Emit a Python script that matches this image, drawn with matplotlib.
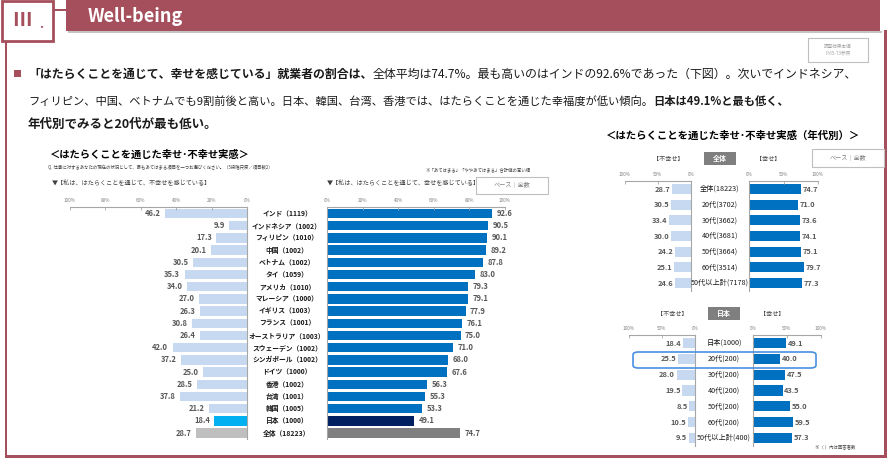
import matplotlib
matplotlib.use('Agg')
import matplotlib.pyplot as plt
from matplotlib.patches import Rectangle, FancyBboxPatch
from matplotlib.transforms import blended_transform_factory

plt.rcParams['font.family'] = ['Noto Sans CJK JP', 'DejaVu Sans']

W, H = 891, 462
MAROON = '#a64f5c'
GRAY_TXT = '#595959'

# ---- data ----
countries = ['インド（1119）', 'インドネシア（1002）', 'フィリピン（1010）', '中国（1002）',
             'ベトナム（1002）', 'タイ（1059）', 'アメリカ（1010）', 'マレーシア（1000）',
             'イギリス（1003）', 'フランス（1001）', 'オーストラリア（1003）', 'スウェーデン（1002）',
             'シンガポール（1002）', 'ドイツ（1000）', '香港（1002）', '台湾（1001）',
             '韓国（1005）', '日本（1000）', '全体（18223）']
unhappy = [46.2, 9.9, 17.3, 20.1, 30.5, 35.3, 34.0, 27.0, 26.3, 30.8, 26.4, 42.0,
           37.2, 25.0, 28.5, 37.8, 21.2, 18.4, 28.7]
happy = [92.6, 90.5, 90.1, 89.2, 87.8, 83.0, 79.3, 79.1, 77.9, 76.1, 75.0, 71.0,
         68.0, 67.6, 56.3, 55.3, 53.3, 49.1, 74.7]

age_all_labels = ['全体(18223)', '20代(3702)', '30代(3662)', '40代(3681)', '50代(3664)',
                  '60代(3514)', '50代以上計(7178)']
age_all_unhappy = [28.7, 30.5, 33.4, 30.0, 24.2, 25.1, 24.6]
age_all_happy = [74.7, 71.0, 73.6, 74.1, 75.1, 79.7, 77.3]

age_jp_labels = ['日本(1000)', '20代(200)', '30代(200)', '40代(200)', '50代(200)',
                 '60代(200)', '50代以上計(400)']
age_jp_unhappy = [18.4, 25.5, 28.0, 19.5, 8.5, 10.5, 9.5]
age_jp_happy = [49.1, 40.0, 47.5, 43.5, 55.0, 59.5, 57.3]

fig = plt.figure(figsize=(W / 100, H / 100), dpi=100)
fig.patch.set_facecolor('white')


def fx(x):
    return x / W


def fy(y):
    return 1 - y / H


def T(x, y, s, **kw):
    kw.setdefault('va', 'center')
    return fig.text(fx(x), fy(y), s, **kw)


def rect(x0, y0, x1, y1, **kw):
    fig.patches.append(Rectangle((fx(x0), fy(y1)), fx(x1 - x0), (y1 - y0) / H,
                                 transform=fig.transFigure, **kw))


def px_axes(x0, y0, x1, y1):
    return fig.add_axes([fx(x0), fy(y1), fx(x1 - x0), (y1 - y0) / H])


# ---- frame and header ----
rect(5, 42, 7, 458, facecolor=MAROON, edgecolor='none')
rect(5, 455, 887, 458, facecolor=MAROON, edgecolor='none')
rect(884, 30, 887, 458, facecolor=MAROON, edgecolor='none')
rect(53, 9, 68, 11, facecolor=MAROON, edgecolor='none')
rect(68, 31, 882, 33, facecolor='#8a8a8a', edgecolor='none', alpha=0.5)
rect(66, 0, 880, 31, facecolor=MAROON, edgecolor='none')
rect(2, 1, 53, 41, facecolor='white', edgecolor=MAROON, linewidth=2)
T(22, 20, 'Ⅲ', color=MAROON, fontsize=14, ha='center', fontweight='bold')
T(41, 24, '.', color=MAROON, fontsize=9, ha='center', fontweight='bold')
T(88, 16, 'Well-being', color='white', fontsize=13, fontweight='bold', ha='left')

rect(808, 38, 868, 62, facecolor='white', edgecolor='#bfbfbf', linewidth=0.8)
T(838, 50, '調査結果本編\nP.65-73参照', color='#a6a6a6', fontsize=3.3, ha='center',
  linespacing=1.3)

# ---- mixed bold / normal text lines ----
renderer = fig.canvas.get_renderer()


def line(x, y, parts, size=8.6):
    for s, bold in parts:
        t = T(x, y, s, fontsize=size, fontweight='bold' if bold else 'normal',
              color='#1a1a1a', ha='left')
        bb = t.get_window_extent(renderer)
        x += bb.width


rect(14, 70, 21, 77, facecolor=MAROON, edgecolor='none')
line(28, 74, [('「はたらくことを通じて、幸せを感じている」就業者の割合は、', True),
              ('全体平均は74.7%。最も高いのはインドの92.6%であった（下図）。次いでインドネシア、', False)])
line(28, 101, [('フィリピン、中国、ベトナムでも9割前後と高い。日本、韓国、台湾、香港では、はたらくことを通じた幸福度が低い傾向。', False),
               ('日本は49.1%と最も低く、', True)], size=8.1)
line(28, 124, [('年代別でみると20代が最も低い。', True)], size=9)

# ---- left chart texts ----
T(50, 155, '＜はたらくことを通じた幸せ･不幸せ実感＞', fontsize=7.4, fontweight='bold', ha='left')
T(48, 167, 'Q. 仕事に対するあなたの現在の状況として、最もあてはまる項目を一つお選びください。（5段階尺度／項目数2）',
  fontsize=3.2, ha='left', color='#404040')
T(52, 183, '▼【私は、はたらくことを通じて、不幸せを感じている】', fontsize=4.4, ha='left', color='#404040')
T(425, 170, '※「あてはまる」「ややあてはまる」合計値の高い順', fontsize=3.2, ha='left', color='#404040')
T(327, 183, '▼【私は、はたらくことを通じて、幸せを感じている】', fontsize=4.4, ha='left', color='#404040')
rect(476, 177, 548, 194, facecolor='white', edgecolor='#bfbfbf', linewidth=0.8)
T(512, 185.5, 'ベース｜全数', fontsize=4.4, ha='center', color='#7f7f7f')


def style_axis(ax, left_side):
    for s in ['left', 'right', 'bottom', 'top']:
        ax.spines[s].set_visible(False)
    ax.spines['top'].set_visible(True)
    ax.spines['top'].set_color('#a6a6a6')
    ax.spines['top'].set_linewidth(0.8)
    side = 'right' if left_side else 'left'
    ax.spines[side].set_visible(True)
    ax.spines[side].set_color('#a6a6a6')
    ax.spines[side].set_linewidth(0.8)
    ax.set_yticks([])
    ax.xaxis.tick_top()
    ax.tick_params(axis='x', direction='in', length=2, width=0.6, color='#a6a6a6',
                   labelsize=3.3, labelcolor='#7f7f7f', pad=3)
    ax.patch.set_alpha(0)


def pair_chart(xl0, xl1, xr0, xr1, y_first, step, labels, uvals, hvals, ucols, hcols,
               xt, ticks, bar_h, val_size, lab_size, lab_bold):
    n = len(labels)
    y0 = y_first - step / 2
    y1 = y_first + step * (n - 0.5)
    axl = px_axes(xl0, y0, xl1, y1)
    axr = px_axes(xr0, y0, xr1, y1)
    idx = list(range(n))
    axl.barh(idx, uvals, height=bar_h, color=ucols)
    axr.barh(idx, hvals, height=bar_h, color=hcols)
    for ax, left_side in [(axl, True), (axr, False)]:
        ax.set_ylim(n - 0.5, -0.5)
        style_axis(ax, left_side)
        ax.set_xticks(ticks)
        ax.set_xticklabels([f'{t}%' for t in ticks])
    axl.set_xlim(100, 0)
    axr.set_xlim(0, 100)
    for i, v in enumerate(uvals):
        axl.text(v + 2.5, i, f'{v:.1f}', ha='right', va='center', fontsize=val_size,
                 fontweight='bold', color=GRAY_TXT)
    for i, v in enumerate(hvals):
        axr.text(v + 2.5, i, f'{v:.1f}', ha='left', va='center', fontsize=val_size,
                 fontweight='bold', color=GRAY_TXT)
    tr = blended_transform_factory(fig.transFigure, axr.transData)
    for i, s in enumerate(labels):
        axr.text(fx(xt), i, s, transform=tr, ha='center', va='center', fontsize=lab_size,
                 fontweight='bold' if lab_bold else 'normal',
                 color='#1a1a1a', clip_on=False)
    return axl, axr


n = len(countries)
ucols = ['#c6d9f1'] * n
hcols = ['#0070c0'] * n
ucols[-2], ucols[-1] = '#00b0f0', '#bfbfbf'
hcols[-2], hcols[-1] = '#002060', '#808080'
pair_chart(70, 247, 327, 505, 213.5, 12.2, countries, unhappy, happy, ucols, hcols,
           287, [0, 20, 40, 60, 80, 100], 0.78, 5.5, 4.9, True)

# ---- right charts ----
T(606, 136, '＜はたらくことを通じた幸せ･不幸せ実感（年代別）＞', fontsize=7.5, fontweight='bold', ha='left')
rect(812, 149, 884, 167, facecolor='white', edgecolor='#bfbfbf', linewidth=0.8)
T(848, 158, 'ベース｜全数', fontsize=4.4, ha='center', color='#7f7f7f')

for (ytag, title, lbls, uv, hv, yf, st, bounds) in [
        (159, '全体', age_all_labels, age_all_unhappy, age_all_happy, 189, 15.67,
         (625, 691, 749, 818)),
        (314, '日本', age_jp_labels, age_jp_unhappy, age_jp_happy, 343, 15.83,
         (629, 695, 753, 821))]:
    xl0, xl1, xr0, xr1 = bounds
    T(xl1 - 23, ytag, '【不幸せ】', fontsize=4.4, ha='center', color='#404040')
    T(xr0 + 19, ytag, '【幸せ】', fontsize=4.4, ha='center', color='#404040')
    xc = (xl1 + xr0) / 2
    rect(xc - 16, ytag - 7, xc + 16, ytag + 6, facecolor='#7f7f7f', edgecolor='none')
    T(xc, ytag - 0.5, title, fontsize=5, ha='center', color='white', fontweight='bold')
    pair_chart(xl0, xl1, xr0, xr1, yf, st, lbls, uv, hv, ['#c6d9f1'] * 7, ['#0070c0'] * 7,
               xc, [0, 50, 100], 0.64, 5.4, 5.2, False)

# highlight around Japan 20s row
fig.patches.append(FancyBboxPatch((fx(633), fy(368)), fx(183), 16 / H,
                                  boxstyle='round,pad=0,rounding_size=0.006',
                                  transform=fig.transFigure, facecolor='none',
                                  edgecolor='#4a90e2', linewidth=1.2, zorder=10))
T(815, 447, '※（ ）内は回答者数', fontsize=3.2, ha='left', color='#404040')

fig.savefig('out.png', dpi=100)
